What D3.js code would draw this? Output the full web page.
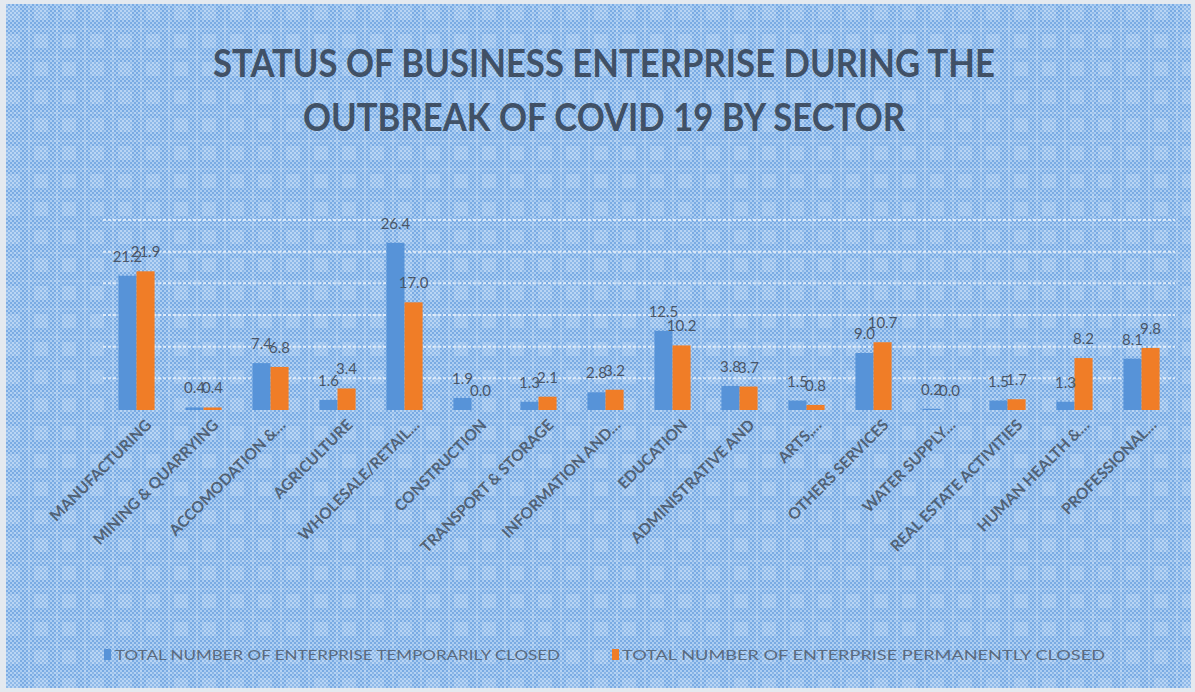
<!DOCTYPE html>
<html><head><meta charset="utf-8">
<script src="https://cdn.jsdelivr.net/npm/d3@7"></script>
<style>html,body{margin:0;padding:0;background:#e4e9ef;}svg{display:block;}</style>
</head><body>
<svg id="c" width="1195" height="692"></svg>
<script>
const categories = ["MANUFACTURING","MINING & QUARRYING","ACCOMODATION &…","AGRICULTURE","WHOLESALE/RETAIL…","CONSTRUCTION","TRANSPORT & STORAGE","INFORMATION AND…","EDUCATION","ADMINISTRATIVE AND","ARTS,…","OTHERS SERVICES","WATER SUPPLY…","REAL ESTATE ACTIVITIES","HUMAN HEALTH &…","PROFESSIONAL…"];
const temporarilyClosed = [21.2,0.4,7.4,1.6,26.4,1.9,1.3,2.8,12.5,3.8,1.5,9.0,0.2,1.5,1.3,8.1];
const permanentlyClosed = [21.9,0.4,6.8,3.4,17.0,0.0,2.1,3.2,10.2,3.7,0.8,10.7,0.0,1.7,8.2,9.8];
const seriesNames = ["TOTAL NUMBER OF ENTERPRISE TEMPORARILY CLOSED","TOTAL NUMBER OF ENTERPRISE PERMANENTLY CLOSED"];
const titleLines = ["STATUS OF BUSINESS ENTERPRISE DURING THE","OUTBREAK OF COVID 19 BY SECTOR"];
const yTicks = [0,5,10,15,20,25,30];

const colors = ["#5793d8","#f07d27"];
const svg = d3.select("#c");
const defs = svg.append("defs");
const pat = defs.append("pattern").attr("id","chk").attr("width",4).attr("height",4).attr("patternUnits","userSpaceOnUse");
pat.append("rect").attr("width",4).attr("height",4).attr("fill","#abcdf2");
pat.append("rect").attr("width",2).attr("height",2).attr("fill","#7aabe3");
pat.append("rect").attr("x",2).attr("y",2).attr("width",2).attr("height",2).attr("fill","#7aabe3");
const big = defs.append("pattern").attr("id","big").attr("width",28).attr("height",28).attr("patternUnits","userSpaceOnUse");
big.append("rect").attr("x",6).attr("y",6).attr("width",14).attr("height",14).attr("fill","#ffffff").attr("opacity",0.16);
big.append("rect").attr("x",0).attr("y",0).attr("width",2).attr("height",28).attr("fill","#ffffff").attr("opacity",0.16);
big.append("rect").attr("x",0).attr("y",0).attr("width",28).attr("height",2).attr("fill","#ffffff").attr("opacity",0.1);

svg.append("rect").attr("x",6).attr("y",4).attr("width",1185).attr("height",684).attr("fill","url(#chk)");
svg.append("rect").attr("x",6).attr("y",4).attr("width",1185).attr("height",684).attr("fill","url(#big)");

// title
const tl = [{w:782,x:604,y:77},{w:602,x:604,y:131}];
svg.selectAll("text.title").data(titleLines).join("text").attr("class","title")
  .attr("x",(d,i)=>tl[i].x).attr("y",(d,i)=>tl[i].y).attr("text-anchor","middle")
  .attr("font-family","Lato, 'Open Sans', sans-serif").attr("font-weight",700).attr("font-size",38)
  .attr("fill","#415166").attr("textLength",(d,i)=>tl[i].w).attr("lengthAdjust","spacingAndGlyphs").text(d=>d);

const x = d3.scaleBand().domain(categories).range([103,1175]).paddingInner(0.46).paddingOuter(0.23);
const xs = d3.scaleBand().domain([0,1]).range([0,x.bandwidth()]);
const y = d3.scaleLinear().domain([0,30]).range([410,220]);

// gridlines
svg.append("g").selectAll("line").data(yTicks.slice(1)).join("line")
  .attr("x1",103).attr("x2",1175).attr("y1",d=>y(d)).attr("y2",d=>y(d))
  .attr("stroke","#ffffff").attr("stroke-width",2).attr("stroke-dasharray","3,2").attr("opacity",0.65);

const rows = categories.map((c,i)=>({c, v:[temporarilyClosed[i],permanentlyClosed[i]]}));
const g = svg.append("g").selectAll("g").data(rows).join("g").attr("transform",d=>`translate(${x(d.c)},0)`);
g.selectAll("rect").data(d=>d.v.map((v,k)=>({v,k}))).join("rect")
  .attr("x",d=>xs(d.k)).attr("width",xs.bandwidth()).attr("y",d=>y(d.v)).attr("height",d=>y(0)-y(d.v))
  .attr("fill",d=>colors[d.k]);
g.selectAll("text").data(d=>d.v.map((v,k)=>({v,k}))).join("text")
  .attr("x",d=>xs(d.k)+xs.bandwidth()/2).attr("y",d=>y(d.v)-14).attr("text-anchor","middle")
  .attr("font-family","Lato, sans-serif").attr("font-size",15).attr("fill","#4a5668")
  .text(d=>d.v.toFixed(1));

// x axis labels
const xa = svg.append("g").attr("transform","translate(0,418)").call(d3.axisBottom(x).tickSize(0).tickPadding(0));
xa.select(".domain").remove();
xa.selectAll("text").attr("text-anchor","end").attr("dy","0").attr("dx","0")
  .attr("transform","translate(16,8) rotate(-45)")
  .attr("font-family","Lato, sans-serif").attr("font-weight",700).attr("font-size",15.5).attr("fill","#516276");

// legend
const lg = [{x:104,tx:115,w:445},{x:612,tx:622,w:483}];
seriesNames.forEach((s,i)=>{
  svg.append("rect").attr("x",lg[i].x).attr("y",649).attr("width",7).attr("height",11).attr("fill",colors[i]);
  svg.append("text").attr("x",lg[i].tx).attr("y",660).attr("font-family","Lato, sans-serif").attr("font-size",14)
    .attr("fill","#5a6a7e").attr("textLength",lg[i].w).attr("lengthAdjust","spacingAndGlyphs").text(s);
});
</script>
</body></html>
